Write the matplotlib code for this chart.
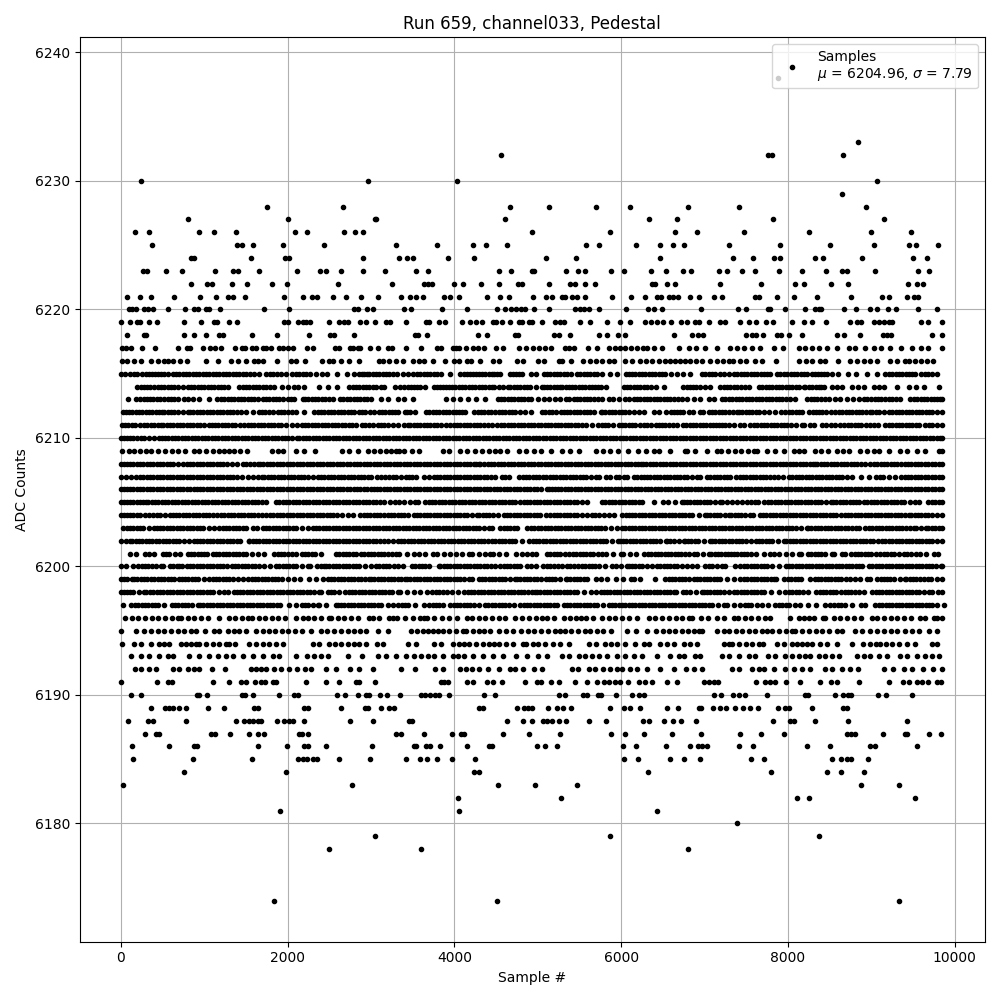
import matplotlib
matplotlib.use("Agg")
import matplotlib.pyplot as plt

x_6238 = [7874]
x_6233 = [8840]
x_6232 = [4556, 7760, 7808, 8660]
x_6230 = [248, 2960, 4028, 9068]
x_6229 = [8648]
x_6228 = [1748, 2660, 4664, 5132, 5696, 6104, 6800, 7412, 8936]
x_6227 = [800, 2000, 3048, 3064, 4604, 6332, 6668, 7820, 9152]
x_6226 = [168, 344, 932, 1112, 1376, 2084, 2228, 2672, 2804, 2904, 4928, 5864, 6644, 6908, 7472, 8252, 8996, 9476]
x_6225 = [380, 1388, 1452, 1580, 1940, 2432, 3296, 3788, 4220, 4376, 4628, 5576, 5732, 6176, 6464, 6620, 6752, 7292, 7904, 8504, 9028, 9452, 9536, 9800]
x_6224 = [844, 880, 1556, 1964, 2020, 2900, 3332, 3428, 3500, 3920, 4232, 5096, 5456, 6464, 7340, 7580, 7832, 7904, 8324, 8420, 8888, 9500, 9668]
x_6223 = [272, 312, 536, 728, 1124, 1340, 1400, 1652, 2108, 2384, 2460, 2636, 2900, 3164, 3536, 3680, 4536, 4676, 4928, 4960, 5336, 5480, 5564, 5876, 6032, 6356, 6536, 6740, 6836, 7172, 7268, 7448, 7604, 7892, 8168, 8456, 8648, 8708, 9044, 9560, 9692]
x_6222 = [836, 1032, 1092, 1328, 1508, 1808, 1988, 2600, 3248, 3632, 3680, 3728, 3992, 4100, 4316, 4536, 4760, 4808, 5132, 5388, 5440, 5564, 5684, 6368, 6408, 6548, 6648, 7184, 7676, 8084, 8192, 8516, 8720, 9440, 9548, 9620]
x_6221 = [80, 236, 368, 632, 944, 1136, 1280, 1340, 1484, 1952, 2180, 2288, 2348, 2540, 2696, 2876, 3080, 3356, 3464, 3536, 3620, 3872, 3944, 4052, 4388, 4544, 4652, 4940, 5096, 5168, 5288, 5328, 5408, 5468, 5564, 5888, 6116, 6284, 6428, 6476, 6568, 6616, 6676, 6820, 6932, 7112, 7208, 7608, 7656, 7868, 8072, 8348, 8756, 9128, 9208, 9428, 9508, 9560]
x_6220 = [100, 140, 188, 280, 328, 392, 560, 764, 872, 920, 1020, 1060, 1184, 1712, 2012, 2792, 2840, 2948, 3020, 3392, 3480, 3848, 4148, 4508, 4604, 4676, 4736, 4796, 4844, 4952, 5132, 5448, 5500, 5548, 5612, 5732, 6056, 6320, 6392, 6488, 6960, 7400, 7496, 7760, 7788, 7964, 8204, 8320, 8368, 8400, 8672, 8816, 8984, 9068, 9200, 9296, 9560, 9784]
x_6219 = [0, 116, 200, 228, 344, 428, 752, 960, 1120, 1148, 1292, 1388, 1952, 2000, 2120, 2180, 2220, 2268, 2492, 2612, 2680, 2720, 2864, 2936, 3048, 3180, 3228, 3416, 3660, 3700, 3812, 3884, 4088, 4184, 4260, 4328, 4460, 4500, 4572, 4664, 4772, 4812, 4900, 4932, 5048, 5208, 5260, 5308, 5504, 5628, 5828, 5988, 6108, 6288, 6360, 6428, 6500, 6600, 6720, 6784, 6888, 6936, 7052, 7188, 7240, 7424, 7532, 7616, 7736, 7820, 8048, 8188, 8288, 8456, 8744, 8828, 8880, 9028, 9090, 9150, 9208, 9252, 9596, 9680, 9848]
x_6218 = [80, 280, 300, 752, 872, 1016, 1172, 1220, 1568, 1868, 2252, 2504, 2560, 2792, 3524, 3560, 3668, 4280, 4388, 4724, 4764, 5188, 5256, 5384, 5732, 5828, 5960, 6044, 6632, 6848, 6920, 6980, 7496, 7568, 7616, 7700, 7868, 7916, 8012, 8168, 8588, 8672, 8864, 9140, 9188, 9240, 9728, 9848]
x_6217 = [20, 60, 128, 260, 404, 680, 792, 832, 980, 1064, 1124, 1200, 1364, 1448, 1488, 1568, 1620, 1700, 1740, 1800, 1900, 1940, 2004, 2060, 2228, 2300, 2564, 2612, 2744, 2780, 2840, 2872, 2984, 3080, 3200, 3252, 3416, 3596, 3788, 3840, 3980, 4020, 4060, 4140, 4220, 4280, 4352, 4500, 4588, 4780, 4860, 4940, 5010, 5088, 5156, 5328, 5368, 5428, 5600, 5708, 5848, 5920, 5990, 6048, 6120, 6190, 6260, 6310, 6388, 6488, 6688, 6808, 6900, 7008, 7148, 7308, 7390, 7470, 7568, 7668, 7828, 7936, 8128, 8208, 8288, 8368, 8468, 8588, 8728, 8808, 8928, 9028, 9120, 9228, 9360, 9488, 9600, 9680, 9850]
x_6216 = [20, 80, 160, 240, 360, 440, 520, 560, 628, 710, 788, 1020, 1160, 1320, 1400, 1500, 1600, 1640, 1700, 1868, 2040, 2100, 2204, 2408, 2500, 2540, 2640, 2740, 2852, 3092, 3140, 3212, 3300, 3380, 3500, 3570, 3640, 3740, 3884, 4000, 4060, 4148, 4204, 4312, 4460, 4532, 4748, 4820, 5000, 5068, 5248, 5288, 5396, 5540, 5628, 5700, 5768, 5848, 5908, 6048, 6128, 6228, 6300, 6368, 6448, 6520, 6588, 6648, 6710, 6768, 6828, 6900, 6968, 7068, 7148, 7220, 7288, 7336, 7420, 7500, 7600, 7688, 7856, 8128, 8210, 8288, 8388, 8448, 8600, 8748, 8830, 8910, 8988, 9068, 9228, 9308, 9408, 9448, 9528, 9600, 9668, 9740]
x_6215 = [0, 55, 110, 160, 200, 260, 335, 410, 485, 560, 620, 700, 780, 860, 940, 1020, 1100, 1180, 1260, 1340, 1420, 1500, 1600, 1660, 1740, 1830, 1920, 1980, 2052, 2140, 2220, 2268, 2340, 2412, 2472, 2592, 2708, 2800, 2860, 2920, 2980, 3060, 3140, 3220, 3312, 3380, 3440, 3500, 3552, 3630, 3710, 3790, 3844, 3952, 4072, 4150, 4220, 4292, 4332, 4410, 4480, 4552, 4672, 4740, 4810, 4924, 4984, 5072, 5150, 5230, 5312, 5350, 5400, 5472, 5550, 5630, 5712, 5772, 5860, 5952, 6052, 6130, 6210, 6290, 6370, 6450, 6530, 6592, 6672, 6740, 6828, 6968, 7050, 7130, 7228, 7288, 7348, 7430, 7510, 7590, 7670, 7748, 7788, 7868, 7908, 7990, 8070, 8150, 8230, 8288, 8328, 8400, 8470, 8528, 8600, 8720, 8820, 8948, 9068, 9168, 9250, 9330, 9410, 9488, 9528, 9600, 9680, 9788,
          300, 372, 448, 520, 660, 740, 820, 900, 980, 1060, 1140, 1220, 1300, 1380, 1460, 1550, 1785, 1875, 2096, 2180, 2890, 2950, 3020, 3100, 3180, 3266, 3590, 3670, 3750, 4111, 4185, 4256, 4371, 4445, 4516, 4706, 4775, 5111, 5190, 5271, 5511, 5590, 5670, 6091, 6170, 6250, 6330, 6410, 6490, 7009, 7090, 7180, 7389, 7470, 7550, 7630, 7710, 7950, 8030, 8110, 8190, 8360, 8435, 9209, 9290, 9370, 9450, 9640, 9730]
x_6214 = [200, 280, 350, 400, 440, 520, 600, 680, 740, 800, 880, 960, 1040, 1120, 1200, 1280, 1420, 1500, 1580, 1660, 1740, 1840, 1932, 2000, 2072, 2130, 2200, 2372, 2480, 2592, 2740, 2820, 2900, 2980, 3060, 3120, 3160, 3292, 3350, 3440, 3520, 3590, 3652, 3752, 3830, 3900, 3972, 4012, 4090, 4170, 4250, 4330, 4410, 4480, 4532, 4580, 4640, 4672, 4750, 4830, 4910, 4980, 5052, 5072, 5150, 5230, 5292, 5332, 5410, 5492, 5532, 5610, 5690, 5760, 5812, 6032, 6110, 6190, 6270, 6352, 6412, 6512, 6736, 6788, 6860, 6940, 7000, 7068, 7188, 7270, 7350, 7430, 7528, 7648, 7730, 7810, 7890, 7970, 8050, 8130, 8188, 8208, 8290, 8370, 8428, 8528, 8590, 8648, 8768, 8840, 8908, 9028, 9090, 9148, 9308, 9456, 9536, 9632, 9812,
          240, 315, 480, 560, 640, 840, 920, 1000, 1080, 1160, 1240, 1460, 1540, 1620, 1700, 1790, 2780, 2860, 2940, 3020, 3395, 3480, 3555, 3790, 3865, 3936, 4050, 4130, 4210, 4290, 4370, 4445, 4710, 4790, 4870, 5110, 5190, 5261, 5371, 5451, 5571, 5650, 5725, 6071, 6150, 6230, 6311, 6824, 6900, 7229, 7310, 7390, 7479, 7689, 7770, 7850, 7930, 8010, 8090, 8250, 8330, 8399]
x_6213 = [88, 180, 230, 280, 312, 390, 470, 560, 600, 680, 752, 810, 860, 940, 1052, 1148, 1200, 1280, 1360, 1440, 1480, 1560, 1640, 1700, 1740, 1820, 1900, 2000, 2080, 2180, 2212, 2290, 2370, 2450, 2540, 2628, 2710, 2790, 2870, 2950, 3000, 3120, 3200, 3320, 3392, 3500, 3900, 3980, 4072, 4164, 4260, 4372, 4524, 4600, 4680, 4760, 4840, 4884, 4924, 5000, 5070, 5132, 5204, 5270, 5332, 5370, 5432, 5510, 5590, 5670, 5772, 5852, 5900, 5972, 6040, 6092, 6152, 6230, 6310, 6390, 6470, 6550, 6630, 6732, 6788, 6868, 6950, 7048, 7116, 7208, 7290, 7370, 7450, 7530, 7610, 7690, 7770, 7850, 7930, 8028, 8088, 8228, 8310, 8390, 8448, 8488, 8560, 8628, 8708, 8780, 8856, 8908, 9000, 9080, 9160, 9250, 9348, 9468, 9550, 9630, 9710, 9790, 9850,
          350, 430, 515, 640, 1240, 1320, 1400, 1520, 1600, 1780, 1860, 1950, 2040, 2250, 2330, 2410, 2495, 2670, 2750, 2830, 2910, 4562, 4640, 4720, 4800, 5471, 5550, 5630, 5720, 6191, 6270, 6350, 6430, 6510, 6590, 6680, 7249, 7330, 7410, 7490, 7570, 7650, 7730, 7810, 7890, 7980, 8270, 8350, 8950, 9040, 9120, 9205, 9300, 9510, 9590, 9670, 9750, 9820]
x_6212 = [28, 100, 180, 260, 340, 420, 492, 520, 600, 680, 800, 828, 910, 990, 1070, 1150, 1230, 1310, 1390, 1500, 1580, 1652, 1730, 1820, 1880, 1920, 2000, 2100, 2200, 2320, 2360, 2400, 2480, 2560, 2640, 2720, 2800, 2852, 2928, 3040, 3092, 3170, 3250, 3320, 3404, 3470, 3532, 3660, 3740, 3820, 3900, 3980, 4060, 4132, 4240, 4284, 4360, 4440, 4532, 4572, 4650, 4730, 4852, 4924, 5052, 5130, 5212, 5272, 5350, 5430, 5510, 5590, 5670, 5752, 5772, 5850, 5930, 6010, 6090, 6152, 6212, 6272, 6392, 6452, 6532, 6592, 6670, 6740, 6808, 6856, 6948, 6976, 7050, 7130, 7210, 7290, 7388, 7408, 7490, 7570, 7650, 7768, 7848, 7910, 7968, 8008, 8090, 8170, 8248, 8296, 8370, 8450, 8568, 8608, 8690, 8770, 8850, 8930, 8988, 9008, 9090, 9208, 9248, 9330, 9410, 9490, 9570, 9650, 9730, 9850,
          65, 140, 220, 300, 380, 456, 560, 640, 740, 870, 950, 1030, 1110, 1190, 1270, 1350, 1445, 1690, 1775, 1960, 2050, 2440, 2520, 2600, 2680, 2760, 2890, 2985, 3130, 3210, 3285, 3437, 3700, 3780, 3860, 3940, 4020, 4096, 4322, 4400, 4486, 4611, 4690, 4791, 5091, 5171, 5311, 5390, 5470, 5550, 5630, 5811, 5890, 5970, 6050, 6630, 6705, 7090, 7170, 7250, 7340, 7449, 7530, 7610, 7710, 8050, 8130, 8330, 8410, 8509, 8650, 8730, 8810, 8890, 9050, 9150, 9289, 9370, 9450, 9530, 9610, 9690, 9790]
x_6211 = [12, 90, 170, 280, 320, 400, 480, 508, 590, 670, 750, 830, 910, 1000, 1052, 1130, 1210, 1290, 1370, 1480, 1520, 1600, 1680, 1760, 1840, 1920, 2052, 2116, 2172, 2250, 2330, 2410, 2490, 2570, 2650, 2730, 2820, 2888, 2970, 3080, 3120, 3200, 3320, 3400, 3444, 3468, 3550, 3630, 3710, 3790, 3900, 3952, 4030, 4110, 4190, 4270, 4350, 4452, 4512, 4564, 4640, 4720, 4800, 4880, 4960, 5040, 5120, 5200, 5280, 5360, 5440, 5532, 5580, 5650, 5724, 5764, 5840, 5972, 6004, 6090, 6170, 6270, 6352, 6412, 6490, 6570, 6672, 6740, 6820, 6900, 6980, 7060, 7140, 7210, 7288, 7348, 7428, 7468, 7548, 7588, 7670, 7750, 7830, 7910, 7990, 8090, 8168, 8188, 8260, 8316, 8408, 8460, 8560, 8676, 8716, 8800, 8880, 8980, 9076, 9168, 9250, 9330, 9410, 9490, 9568, 9648, 9730, 9840,
          50, 130, 225, 360, 440, 550, 630, 710, 790, 870, 955, 1090, 1170, 1250, 1330, 1425, 1560, 1640, 1720, 1800, 1880, 1985, 2210, 2290, 2370, 2450, 2530, 2610, 2690, 2775, 2930, 3025, 3160, 3260, 3510, 3590, 3670, 3750, 3845, 3990, 4070, 4150, 4230, 4310, 4400, 4600, 4680, 4760, 4840, 4920, 5000, 5080, 5160, 5240, 5320, 5400, 5486, 5802, 5905, 6047, 6130, 6220, 6310, 6450, 6530, 6620, 6780, 6860, 6940, 7020, 7100, 7175, 7250, 7630, 7710, 7790, 7870, 7950, 8040, 8510, 8618, 8758, 8840, 8930, 9030, 9210, 9290, 9370, 9450, 9530, 9690, 9790]
x_6210 = [0, 70, 150, 240, 280, 340, 400, 452, 530, 610, 690, 770, 850, 930, 1010, 1090, 1170, 1250, 1330, 1410, 1490, 1572, 1650, 1730, 1810, 1890, 1970, 2050, 2112, 2140, 2220, 2300, 2380, 2460, 2540, 2620, 2700, 2780, 2860, 2940, 3020, 3100, 3180, 3260, 3340, 3420, 3500, 3580, 3660, 3740, 3820, 3900, 3980, 4060, 4140, 4220, 4300, 4380, 4460, 4540, 4620, 4700, 4780, 4860, 4940, 5020, 5100, 5180, 5260, 5340, 5420, 5500, 5580, 5660, 5740, 5820, 5900, 5980, 6060, 6140, 6220, 6300, 6380, 6460, 6540, 6620, 6700, 6780, 6860, 6940, 7020, 7100, 7180, 7260, 7340, 7420, 7500, 7580, 7660, 7740, 7820, 7900, 7980, 8060, 8140, 8220, 8300, 8380, 8460, 8540, 8620, 8700, 8780, 8860, 8940, 9020, 9100, 9180, 9260, 9340, 9420, 9500, 9580, 9660, 9740, 9820, 9850,
          35, 110, 195, 490, 570, 650, 730, 810, 890, 970, 1050, 1130, 1210, 1290, 1370, 1450, 1530, 1610, 1690, 1770, 1850, 1930, 2010, 2180, 2260, 2340, 2420, 2500, 2580, 2660, 2740, 2820, 2900, 2980, 3060, 3140, 3220, 3300, 3380, 3460, 3540, 3620, 3700, 3780, 3860, 3940, 4020, 4100, 4180, 4260, 4340, 4420, 4500, 4580, 4660, 4740, 4820, 4900, 4980, 5060, 5140, 5220, 5300, 5380, 5460, 5540, 5620, 5700, 5780, 5860, 5940, 6020, 6100, 6180, 6260, 6340, 6420, 6500, 6580, 6660, 6740, 6820, 6900, 6980, 7060, 7140, 7220, 7300, 7380, 7460, 7540, 7620, 7700, 7780, 7860, 7940, 8020, 8100, 8180, 8260, 8340, 8420, 8500, 8580, 8660, 8740, 8820, 8900, 8980, 9060, 9140, 9220, 9300, 9380, 9460, 9540, 9620, 9700, 9780]
x_6209 = [20, 100, 160, 230, 300, 360, 440, 532, 610, 690, 770, 880, 940, 1020, 1100, 1172, 1240, 1300, 1360, 1430, 1508, 1812, 1880, 1940, 2100, 2200, 2324, 2652, 2740, 2840, 2960, 3040, 3108, 3180, 3240, 3300, 3340, 3400, 3492, 3580, 3860, 3940, 4064, 4152, 4252, 4330, 4410, 4492, 4544, 4632, 4780, 4860, 4950, 5032, 5160, 5284, 5380, 5492, 5692, 5780, 5860, 5956, 6080, 6204, 6300, 6392, 6452, 6584, 6784, 6768, 6888, 7028, 7148, 7200, 7280, 7360, 7440, 7520, 7588, 7628, 7748, 7848, 7948, 8068, 8130, 8188, 8328, 8400, 8480, 8588, 8660, 8728, 8868, 8950, 9030, 9088, 9208, 9348, 9428, 9548, 9648, 9808, 9850]
x_6208 = [0, 70, 150, 230, 310, 390, 470, 550, 630, 740, 788, 870, 950, 1030, 1110, 1190, 1270, 1388, 1460, 1550, 1640, 1668, 1750, 1830, 1910, 1990, 2070, 2150, 2230, 2310, 2390, 2470, 2550, 2630, 2710, 2790, 2870, 2950, 3030, 3110, 3190, 3270, 3350, 3430, 3510, 3590, 3670, 3750, 3830, 3910, 3990, 4070, 4150, 4230, 4292, 4312, 4400, 4480, 4560, 4640, 4720, 4800, 4880, 4960, 5040, 5120, 5200, 5280, 5360, 5440, 5520, 5600, 5680, 5760, 5840, 5920, 6000, 6080, 6160, 6232, 6260, 6340, 6420, 6500, 6580, 6660, 6740, 6820, 6900, 6980, 7060, 7140, 7220, 7300, 7380, 7460, 7540, 7620, 7700, 7780, 7860, 7940, 8020, 8100, 8180, 8260, 8328, 8348, 8430, 8510, 8590, 8670, 8750, 8830, 8928, 8988, 9070, 9150, 9230, 9310, 9408, 9440, 9520, 9600, 9680, 9760, 9850,
          35, 110, 190, 270, 350, 430, 510, 590, 680, 830, 910, 990, 1070, 1150, 1230, 1330, 1500, 1595, 1710, 1790, 1870, 1950, 2030, 2110, 2190, 2270, 2350, 2430, 2510, 2590, 2670, 2750, 2830, 2910, 2990, 3070, 3150, 3230, 3310, 3390, 3470, 3550, 3630, 3710, 3790, 3870, 3950, 4030, 4110, 4190, 4260, 4356, 4440, 4520, 4600, 4680, 4760, 4840, 4920, 5000, 5080, 5160, 5240, 5320, 5400, 5480, 5560, 5640, 5720, 5800, 5880, 5960, 6040, 6120, 6196, 6300, 6380, 6460, 6540, 6620, 6700, 6780, 6860, 6940, 7020, 7100, 7180, 7260, 7340, 7420, 7500, 7580, 7660, 7740, 7820, 7900, 7980, 8060, 8140, 8220, 8295, 8390, 8470, 8550, 8630, 8710, 8790, 8880, 9030, 9110, 9190, 9270, 9360, 9480, 9560, 9640, 9720, 9805]
x_6207 = [0, 60, 120, 188, 270, 350, 430, 510, 590, 670, 750, 830, 910, 990, 1070, 1150, 1230, 1310, 1390, 1520, 1580, 1640, 1692, 1720, 1800, 1880, 1960, 2040, 2120, 2200, 2300, 2360, 2440, 2520, 2600, 2680, 2760, 2840, 2920, 3000, 3068, 3120, 3172, 3220, 3300, 3420, 3452, 3540, 3632, 3692, 3752, 3830, 3910, 3990, 4070, 4150, 4230, 4310, 4390, 4492, 4572, 4650, 4780, 4860, 4940, 5020, 5100, 5180, 5260, 5340, 5420, 5500, 5580, 5692, 5732, 5812, 5868, 5932, 5968, 6032, 6072, 6152, 6232, 6310, 6390, 6470, 6550, 6630, 6710, 6790, 6908, 6948, 7028, 7068, 7150, 7230, 7310, 7428, 7456, 7540, 7620, 7700, 7780, 7880, 7940, 8008, 8090, 8170, 8250, 8330, 8410, 8490, 8570, 8650, 8768, 8880, 8968, 9056, 9140, 9280, 9356, 9440, 9520, 9600, 9680, 9760, 9850,
          230, 310, 390, 470, 550, 630, 710, 790, 870, 950, 1030, 1110, 1190, 1270, 1350, 1455, 1760, 1840, 1920, 2000, 2080, 2160, 2250, 2400, 2480, 2560, 2640, 2720, 2800, 2880, 2960, 3260, 3360, 3496, 3790, 3870, 3950, 4030, 4110, 4190, 4270, 4350, 4440, 4610, 4820, 4900, 4980, 5060, 5140, 5220, 5300, 5380, 5460, 5540, 5636, 6190, 6270, 6350, 6430, 6510, 6590, 6670, 6750, 6850, 7110, 7190, 7270, 7370, 7500, 7580, 7660, 7740, 7830, 8050, 8130, 8210, 8290, 8370, 8450, 8530, 8610, 8710, 9100, 9210, 9400, 9480, 9560, 9640, 9720, 9805]
x_6206 = [0, 70, 150, 230, 310, 390, 470, 550, 630, 710, 790, 880, 950, 1030, 1110, 1190, 1270, 1350, 1430, 1510, 1590, 1670, 1750, 1830, 1910, 1990, 2070, 2150, 2230, 2310, 2390, 2470, 2550, 2630, 2710, 2790, 2870, 2950, 3040, 3068, 3150, 3230, 3310, 3390, 3470, 3550, 3630, 3710, 3790, 3870, 3950, 4030, 4110, 4150, 4230, 4310, 4390, 4470, 4550, 4630, 4710, 4790, 4870, 4950, 5040, 5112, 5130, 5200, 5280, 5360, 5440, 5520, 5600, 5680, 5760, 5840, 5920, 6000, 6080, 6160, 6240, 6320, 6400, 6480, 6560, 6640, 6720, 6800, 6880, 6960, 7040, 7120, 7200, 7280, 7360, 7440, 7520, 7600, 7680, 7760, 7840, 7920, 8000, 8080, 8160, 8240, 8320, 8400, 8480, 8560, 8640, 8720, 8800, 8880, 8960, 9040, 9120, 9200, 9280, 9360, 9440, 9520, 9600, 9680, 9760, 9850,
          35, 110, 190, 270, 350, 430, 510, 590, 670, 750, 835, 915, 990, 1070, 1150, 1230, 1310, 1390, 1470, 1550, 1630, 1710, 1790, 1870, 1950, 2030, 2110, 2190, 2270, 2350, 2430, 2510, 2590, 2670, 2750, 2830, 2910, 2995, 3110, 3190, 3270, 3350, 3430, 3510, 3590, 3670, 3750, 3830, 3910, 3990, 4070, 4190, 4270, 4350, 4430, 4510, 4590, 4670, 4750, 4830, 4910, 4995, 5165, 5240, 5320, 5400, 5480, 5560, 5640, 5720, 5800, 5880, 5960, 6040, 6120, 6200, 6280, 6360, 6440, 6520, 6600, 6680, 6760, 6840, 6920, 7000, 7080, 7160, 7240, 7320, 7400, 7480, 7560, 7640, 7720, 7800, 7880, 7960, 8040, 8120, 8200, 8280, 8360, 8440, 8520, 8600, 8680, 8760, 8840, 8920, 9000, 9080, 9160, 9240, 9320, 9400, 9480, 9560, 9640, 9720, 9805]
x_6205 = [0, 70, 150, 230, 300, 332, 410, 490, 570, 650, 730, 810, 890, 970, 1050, 1130, 1210, 1290, 1370, 1450, 1530, 1610, 1690, 1740, 1860, 1940, 2020, 2100, 2180, 2260, 2340, 2420, 2500, 2580, 2660, 2740, 2820, 2900, 2980, 3060, 3160, 3230, 3292, 3332, 3400, 3470, 3532, 3564, 3650, 3730, 3810, 3890, 3972, 4012, 4090, 4170, 4250, 4330, 4410, 4490, 4570, 4650, 4730, 4792, 4832, 4910, 4990, 5070, 5150, 5230, 5310, 5390, 5470, 5584, 5772, 5850, 5930, 6010, 6090, 6170, 6252, 6392, 6500, 6564, 6640, 6728, 6748, 6830, 6910, 6990, 7070, 7188, 7208, 7328, 7388, 7508, 7560, 7640, 7708, 7760, 7840, 7920, 8000, 8080, 8160, 8240, 8320, 8400, 8516, 8540, 8620, 8700, 8780, 8856, 8908, 8990, 9070, 9150, 9230, 9310, 9390, 9528, 9576, 9680, 9760, 9850,
          35, 110, 190, 265, 370, 450, 530, 610, 690, 770, 850, 930, 1010, 1090, 1170, 1250, 1330, 1410, 1490, 1570, 1650, 1900, 1980, 2060, 2140, 2220, 2300, 2380, 2460, 2540, 2620, 2700, 2780, 2860, 2940, 3020, 3110, 3690, 3770, 3850, 3930, 4050, 4130, 4210, 4290, 4370, 4450, 4530, 4610, 4690, 4870, 4950, 5030, 5110, 5190, 5270, 5350, 5430, 5525, 5810, 5890, 5970, 6050, 6130, 6210, 6790, 6870, 6950, 7030, 7130, 7268, 7448, 7600, 7800, 7880, 7960, 8040, 8120, 8200, 8280, 8360, 8460, 8580, 8660, 8740, 8820, 8950, 9030, 9110, 9190, 9270, 9350, 9460, 9720, 9805]
x_6204 = [0, 70, 150, 230, 340, 388, 470, 588, 620, 700, 780, 860, 940, 1020, 1100, 1200, 1240, 1320, 1400, 1480, 1560, 1640, 1740, 1788, 1870, 1950, 2030, 2110, 2190, 2270, 2350, 2430, 2510, 2590, 2720, 2780, 2872, 2950, 3030, 3110, 3200, 3240, 3320, 3400, 3444, 3512, 3590, 3670, 3750, 3830, 3910, 3990, 4070, 4150, 4272, 4300, 4380, 4460, 4592, 4632, 4710, 4790, 4870, 4950, 5030, 5100, 5140, 5192, 5232, 5310, 5390, 5470, 5592, 5644, 5730, 5852, 5912, 6012, 6052, 6130, 6210, 6290, 6370, 6450, 6530, 6610, 6690, 6770, 6850, 7008, 7028, 7110, 7190, 7288, 7320, 7400, 7480, 7548, 7580, 7668, 7696, 7780, 7860, 7940, 8020, 8100, 8180, 8260, 8340, 8420, 8500, 8580, 8688, 8720, 8800, 8880, 8960, 9040, 9120, 9200, 9280, 9360, 9448, 9476, 9560, 9640, 9720, 9850,
          35, 110, 190, 285, 430, 530, 660, 740, 820, 900, 980, 1060, 1150, 1280, 1360, 1440, 1520, 1600, 1690, 1830, 1910, 1990, 2070, 2150, 2230, 2310, 2390, 2470, 2550, 2650, 2910, 2990, 3070, 3155, 3280, 3360, 3550, 3630, 3710, 3790, 3870, 3950, 4030, 4110, 4210, 4340, 4420, 4525, 4670, 4750, 4830, 4910, 4990, 5270, 5350, 5430, 5530, 5690, 5790, 6090, 6170, 6250, 6330, 6410, 6490, 6570, 6650, 6730, 6810, 6930, 7070, 7150, 7240, 7360, 7440, 7740, 7820, 7900, 7980, 8060, 8140, 8220, 8300, 8380, 8460, 8540, 8630, 8760, 8840, 8920, 9000, 9080, 9160, 9240, 9320, 9400, 9520, 9600, 9680, 9785]
x_6203 = [28, 110, 190, 270, 400, 428, 510, 590, 670, 750, 830, 910, 990, 1120, 1180, 1260, 1340, 1420, 1500, 1580, 1628, 1700, 1780, 1860, 1940, 2020, 2100, 2240, 2300, 2380, 2460, 2540, 2620, 2700, 2780, 2860, 2940, 3020, 3100, 3180, 3260, 3340, 3420, 3500, 3580, 3660, 3740, 3820, 3900, 3980, 4060, 4140, 4220, 4300, 4412, 4452, 4552, 4592, 4670, 4750, 4872, 4924, 5000, 5080, 5160, 5240, 5320, 5400, 5480, 5560, 5640, 5720, 5800, 5952, 6012, 6090, 6170, 6250, 6330, 6410, 6490, 6570, 6650, 6730, 6810, 6890, 6970, 7050, 7130, 7210, 7290, 7370, 7450, 7530, 7610, 7690, 7770, 7850, 7930, 8010, 8090, 8228, 8240, 8320, 8400, 8480, 8560, 8640, 8720, 8816, 8848, 8928, 9010, 9090, 9170, 9250, 9330, 9410, 9508, 9536, 9656, 9680, 9760, 9850,
          70, 150, 230, 335, 470, 550, 630, 710, 790, 870, 950, 1055, 1220, 1300, 1380, 1460, 1740, 1820, 1900, 1980, 2060, 2170, 2340, 2420, 2500, 2580, 2660, 2740, 2820, 2900, 2980, 3060, 3140, 3220, 3300, 3380, 3460, 3540, 3620, 3700, 3780, 3860, 3940, 4020, 4100, 4180, 4260, 4356, 4630, 4710, 4960, 5040, 5120, 5200, 5280, 5360, 5440, 5520, 5600, 5680, 5760, 5876, 6050, 6130, 6210, 6290, 6370, 6450, 6530, 6610, 6690, 6770, 6850, 6930, 7010, 7090, 7170, 7250, 7330, 7410, 7490, 7570, 7650, 7730, 7810, 7890, 7970, 8050, 8160, 8280, 8360, 8440, 8520, 8600, 8680, 8768, 8968, 9050, 9130, 9210, 9290, 9370, 9460, 9596, 9720, 9805]
x_6202 = [0, 60, 108, 140, 220, 300, 380, 460, 540, 620, 700, 820, 872, 950, 1030, 1110, 1190, 1270, 1350, 1430, 1532, 1540, 1620, 1700, 1780, 1860, 1940, 2020, 2100, 2180, 2260, 2340, 2420, 2500, 2580, 2660, 2740, 2820, 2900, 2980, 3060, 3160, 3200, 3320, 3400, 3480, 3560, 3640, 3720, 3800, 3880, 3960, 4040, 4120, 4200, 4280, 4360, 4452, 4492, 4570, 4650, 4730, 4892, 4940, 5020, 5100, 5180, 5260, 5340, 5420, 5500, 5580, 5660, 5740, 5820, 5964, 5980, 6060, 6140, 6220, 6300, 6380, 6460, 6532, 6552, 6630, 6748, 6760, 6840, 6920, 7068, 7088, 7170, 7250, 7330, 7410, 7490, 7616, 7648, 7730, 7810, 7948, 7976, 8060, 8140, 8220, 8300, 8380, 8460, 8540, 8620, 8700, 8780, 8860, 8940, 9020, 9128, 9168, 9250, 9330, 9410, 9490, 9570, 9650, 9730, 9850,
          180, 260, 340, 420, 500, 580, 660, 760, 910, 990, 1070, 1150, 1230, 1310, 1390, 1580, 1660, 1740, 1820, 1900, 1980, 2060, 2140, 2220, 2300, 2380, 2460, 2540, 2620, 2700, 2780, 2860, 2940, 3020, 3110, 3260, 3360, 3440, 3520, 3600, 3680, 3760, 3840, 3920, 4000, 4080, 4160, 4240, 4320, 4406, 4530, 4610, 4690, 4810, 4980, 5060, 5140, 5220, 5300, 5380, 5460, 5540, 5620, 5700, 5780, 5892, 6020, 6100, 6180, 6260, 6340, 6420, 6590, 6690, 6800, 6880, 6994, 7130, 7210, 7290, 7370, 7450, 7553, 7690, 7770, 7879, 8020, 8100, 8180, 8260, 8340, 8420, 8500, 8580, 8660, 8740, 8820, 8900, 8980, 9074, 9210, 9290, 9370, 9450, 9530, 9610, 9690, 9790]
x_6201 = [108, 180, 288, 340, 400, 500, 580, 708, 800, 880, 960, 1032, 1100, 1180, 1260, 1340, 1420, 1500, 1640, 1720, 1840, 1920, 2000, 2100, 2168, 2250, 2330, 2400, 2580, 2660, 2740, 2820, 2880, 2960, 3040, 3120, 3200, 3300, 3340, 3432, 3512, 3580, 3644, 3740, 3792, 3870, 3952, 4024, 4092, 4172, 4212, 4290, 4370, 4432, 4460, 4540, 4620, 4740, 4812, 4870, 4932, 4984, 5112, 5190, 5270, 5372, 5424, 5500, 5580, 5660, 5772, 5820, 5900, 5992, 6024, 6100, 6180, 6272, 6324, 6400, 6480, 6560, 6640, 6720, 6812, 6868, 6908, 6980, 7056, 7080, 7160, 7240, 7320, 7352, 7430, 7510, 7616, 7716, 7788, 7828, 7888, 7976, 8050, 8136, 8160, 8240, 8280, 8360, 8440, 8528, 8556, 8648, 8688, 8750, 8808, 8840, 8920, 9000, 9056, 9104, 9190, 9270, 9328, 9388, 9470, 9588, 9656, 9748, 9800,
          540, 645, 840, 920, 1000, 1140, 1220, 1300, 1380, 1460, 1570, 1880, 1960, 2050, 2210, 2290, 2620, 2700, 2780, 2920, 3000, 3080, 3160, 3250, 5150, 5230, 5320, 5460, 5540, 5620, 5716, 6360, 6440, 6520, 6600, 6680, 6766, 7120, 7200, 7280, 7390, 7470, 7560, 8320, 8400, 8880, 8960, 9146, 9230, 9430, 9530]
x_6200 = [0, 60, 152, 212, 290, 370, 480, 508, 590, 670, 732, 788, 870, 950, 1030, 1110, 1190, 1270, 1332, 1372, 1450, 1530, 1610, 1712, 1788, 1860, 1940, 2020, 2100, 2240, 2268, 2350, 2440, 2460, 2540, 2620, 2700, 2780, 2860, 3000, 3060, 3140, 3220, 3320, 3380, 3492, 3532, 3610, 3690, 3812, 3832, 3910, 3990, 4070, 4150, 4230, 4310, 4390, 4484, 4552, 4630, 4710, 4792, 4872, 4924, 4980, 5060, 5112, 5190, 5292, 5352, 5430, 5524, 5564, 5650, 5730, 5892, 5932, 6072, 6092, 6170, 6250, 6372, 6432, 6510, 6590, 6670, 6728, 6788, 6850, 6908, 7008, 7090, 7208, 7240, 7368, 7428, 7510, 7590, 7670, 7748, 7808, 7888, 7970, 8050, 8130, 8210, 8290, 8370, 8450, 8530, 8610, 8690, 8770, 8848, 8888, 8968, 9050, 9130, 9210, 9290, 9370, 9450, 9530, 9610, 9690, 9770, 9828, 9850,
          250, 330, 420, 630, 700, 830, 910, 990, 1070, 1150, 1230, 1410, 1490, 1570, 1660, 1900, 1980, 2060, 2170, 2400, 2500, 2580, 2660, 2740, 2820, 2930, 3100, 3180, 3270, 3570, 3650, 3870, 3950, 4030, 4110, 4190, 4270, 4350, 4437, 4590, 4670, 4750, 5150, 5240, 5390, 5480, 5610, 5690, 5810, 6000, 6130, 6210, 6310, 6470, 6550, 6630, 7050, 7150, 7470, 7550, 7630, 7710, 8010, 8090, 8170, 8250, 8330, 8410, 8490, 8570, 8650, 8730, 8810, 9010, 9090, 9170, 9250, 9330, 9410, 9490, 9570, 9650, 9730]
x_6199 = [0, 70, 140, 160, 240, 320, 400, 480, 560, 640, 692, 770, 850, 930, 1060, 1100, 1180, 1260, 1340, 1468, 1528, 1610, 1690, 1770, 1850, 1930, 2080, 2152, 2252, 2340, 2428, 2480, 2560, 2640, 2720, 2800, 2880, 2972, 3000, 3080, 3160, 3240, 3320, 3404, 3432, 3510, 3590, 3670, 3750, 3830, 3910, 3990, 4070, 4172, 4212, 4292, 4370, 4450, 4530, 4610, 4724, 4752, 4830, 4910, 4990, 5092, 5132, 5210, 5332, 5352, 5430, 5510, 5590, 5700, 5752, 5832, 5932, 6020, 6112, 6152, 6220, 6404, 6524, 6572, 6650, 6730, 6812, 6870, 6950, 7030, 7110, 7188, 7268, 7348, 7428, 7510, 7590, 7670, 7750, 7828, 7856, 7948, 8000, 8080, 8160, 8268, 8320, 8400, 8480, 8560, 8640, 8748, 8800, 8868, 8948, 8988, 9070, 9150, 9228, 9268, 9340, 9400, 9416, 9500, 9580, 9680, 9708, 9780, 9840,
          35, 200, 280, 360, 440, 520, 600, 730, 810, 890, 995, 1140, 1220, 1300, 1400, 1570, 1650, 1730, 1810, 1890, 2005, 2520, 2600, 2680, 2760, 2840, 2925, 3040, 3120, 3200, 3280, 3360, 3470, 3550, 3630, 3710, 3790, 3870, 3950, 4030, 4120, 4330, 4410, 4490, 4570, 4665, 4790, 4870, 4950, 5040, 5170, 5270, 5390, 5470, 5550, 6610, 6690, 6770, 6910, 6990, 7070, 7150, 7470, 7550, 7630, 7710, 7790, 8040, 8120, 8360, 8440, 8520, 8600, 8690, 9110, 9190, 9460, 9540, 9630]
x_6198 = [0, 70, 150, 220, 280, 308, 390, 470, 550, 630, 710, 790, 870, 950, 1030, 1110, 1240, 1280, 1360, 1388, 1470, 1550, 1630, 1710, 1790, 1870, 1950, 2030, 2110, 2190, 2270, 2372, 2400, 2480, 2560, 2612, 2690, 2770, 2850, 2930, 3010, 3090, 3170, 3250, 3320, 3352, 3432, 3512, 3592, 3672, 3732, 3820, 3912, 3972, 4040, 4112, 4164, 4240, 4320, 4400, 4480, 4560, 4640, 4720, 4800, 4880, 4972, 4992, 5070, 5150, 5230, 5310, 5390, 5470, 5632, 5700, 5752, 5830, 5910, 5990, 6070, 6150, 6230, 6310, 6390, 6470, 6550, 6628, 6656, 6740, 6820, 6968, 6988, 7070, 7150, 7230, 7356, 7388, 7470, 7550, 7630, 7710, 7888, 7968, 8050, 8130, 8240, 8336, 8420, 8500, 8580, 8688, 8716, 8800, 8908, 9008, 9090, 9170, 9250, 9330, 9410, 9490, 9570, 9688, 9728, 9800, 9850,
          35, 110, 350, 430, 510, 590, 670, 750, 830, 910, 990, 1070, 1175, 1430, 1510, 1590, 1670, 1750, 1830, 1910, 1990, 2070, 2150, 2230, 2320, 2520, 2730, 2810, 2890, 2970, 3050, 3130, 3210, 3776, 3866, 4200, 4280, 4360, 4440, 4520, 4600, 4680, 4760, 4840, 4925, 5030, 5110, 5190, 5270, 5350, 5430, 5550, 5790, 5870, 5950, 6030, 6110, 6190, 6270, 6350, 6430, 6510, 6590, 6780, 6894, 7030, 7110, 7190, 7290, 7430, 7510, 7590, 7670, 7800, 8010, 8090, 8185, 8380, 8460, 8540, 8640, 8760, 8854, 9050, 9130, 9210, 9290, 9370, 9450, 9530, 9630]
x_6197 = [28, 128, 210, 290, 370, 450, 520, 612, 690, 770, 850, 920, 948, 1030, 1110, 1190, 1270, 1350, 1430, 1510, 1590, 1670, 1750, 1830, 1910, 2020, 2100, 2168, 2250, 2360, 2380, 2460, 2580, 2600, 2680, 2760, 2840, 2920, 3000, 3080, 3120, 3200, 3320, 3412, 3444, 3530, 3632, 3700, 3780, 3860, 3952, 3992, 4070, 4150, 4230, 4372, 4404, 4490, 4570, 4650, 4792, 4832, 4910, 4990, 5070, 5150, 5232, 5312, 5390, 5470, 5550, 5630, 5710, 5852, 5892, 5970, 6050, 6130, 6210, 6290, 6370, 6450, 6530, 6610, 6690, 6770, 6850, 6930, 7010, 7090, 7228, 7268, 7428, 7480, 7560, 7688, 7760, 7848, 7930, 8010, 8148, 8240, 8340, 8440, 8508, 8600, 8688, 8768, 8880, 8920, 9048, 9088, 9170, 9250, 9330, 9410, 9490, 9570, 9650, 9730, 9868,
          170, 250, 330, 410, 650, 730, 810, 990, 1070, 1150, 1230, 1310, 1390, 1470, 1550, 1630, 1710, 1790, 1870, 2210, 2300, 2640, 2720, 2800, 2880, 2960, 3040, 3260, 3370, 3740, 3820, 4030, 4110, 4190, 4300, 4450, 4530, 4610, 4720, 4870, 4950, 5030, 5110, 5190, 5350, 5430, 5510, 5590, 5670, 5780, 5930, 6010, 6090, 6170, 6250, 6330, 6410, 6490, 6570, 6650, 6730, 6810, 6890, 6970, 7050, 7160, 7350, 7520, 7625, 7890, 7970, 8080, 8640, 8548, 9130, 9210, 9290, 9370, 9450, 9530, 9610, 9690, 9790]
x_6196 = [52, 130, 210, 290, 370, 450, 530, 610, 680, 720, 800, 880, 960, 1040, 1172, 1292, 1370, 1450, 1520, 1572, 1652, 1730, 1810, 1890, 1970, 2100, 2180, 2240, 2320, 2400, 2492, 2520, 2600, 2680, 2760, 2840, 2980, 3020, 3100, 3212, 3260, 3312, 3412, 3500, 3592, 3632, 3672, 3750, 3850, 3932, 4032, 4152, 4212, 4290, 4370, 4450, 4530, 4604, 4732, 4810, 4890, 4980, 5052, 5112, 5192, 5312, 5380, 5452, 5512, 5572, 5660, 5772, 5850, 5930, 6004, 6092, 6192, 6330, 6410, 6490, 6570, 6656, 6730, 6808, 6848, 6960, 7040, 7148, 7230, 7348, 7400, 7480, 7560, 7640, 7720, 7788, 8028, 8128, 8190, 8248, 8308, 8416, 8448, 8548, 8628, 8710, 8790, 8870, 9008, 9068, 9150, 9230, 9310, 9390, 9470, 9588, 9648, 9748, 9788, 9850]
x_6195 = [0, 180, 280, 360, 440, 520, 600, 680, 760, 840, 900, 1012, 1120, 1180, 1280, 1360, 1420, 1500, 1620, 1700, 1772, 1850, 1930, 2010, 2090, 2170, 2280, 2400, 2472, 2560, 2640, 2720, 2800, 2870, 2940, 3080, 3200, 3480, 3550, 3620, 3680, 3740, 3800, 3860, 3940, 4020, 4100, 4140, 4220, 4300, 4360, 4428, 4540, 4620, 4700, 4800, 4880, 4960, 5040, 5120, 5200, 5268, 5328, 5400, 5480, 5560, 5628, 5708, 5776, 5880, 6068, 6176, 6308, 6416, 6496, 6570, 6640, 6728, 6800, 6870, 6928, 6968, 7148, 7228, 7288, 7370, 7450, 7530, 7608, 7688, 7750, 7808, 7888, 7970, 8048, 8088, 8168, 8250, 8330, 8410, 8488, 8588, 8648, 8808, 8888, 8988, 9070, 9150, 9230, 9308, 9408, 9488, 9576, 9688, 9788]
x_6194 = [20, 160, 240, 360, 452, 520, 580, 720, 780, 840, 900, 940, 1020, 1100, 1180, 1260, 1300, 1364, 1540, 1620, 1700, 1780, 1860, 1940, 2300, 2380, 2500, 2572, 2640, 2720, 2790, 2860, 2940, 3068, 3140, 3440, 3540, 3760, 3840, 3980, 4060, 4120, 4180, 4260, 4340, 4420, 4480, 4540, 4620, 4700, 4820, 4860, 4940, 5008, 5090, 5180, 5268, 5376, 5608, 5700, 5808, 5876, 5948, 6040, 6168, 6268, 6328, 6468, 6550, 6630, 6748, 6828, 6908, 7228, 7288, 7328, 7410, 7490, 7570, 7648, 7700, 7868, 7950, 8048, 8108, 8170, 8228, 8288, 8388, 8470, 8588, 8772, 8900, 8988, 9050, 9108, 9176, 9250, 9328, 9428, 9528, 9728, 9788]
x_6193 = [120, 240, 340, 460, 560, 620, 820, 940, 1060, 1160, 1260, 1340, 1460, 1580, 1700, 1820, 1900, 2100, 2232, 2320, 2400, 2480, 2720, 2888, 3080, 3180, 3300, 3420, 3520, 3600, 3680, 3760, 3860, 3980, 4040, 4120, 4220, 4340, 4460, 4580, 4740, 4868, 5000, 5108, 5288, 5368, 5488, 5568, 5648, 5728, 5828, 5948, 6048, 6148, 6248, 6428, 6588, 6688, 6748, 6888, 6948, 7208, 7288, 7408, 7528, 7608, 7760, 7848, 7968, 8048, 8128, 8208, 8268, 8368, 8448, 8528, 8608, 8828, 8908, 8988, 9088, 9188, 9348, 9428, 9548, 9648, 9728, 9808]
x_6192 = [168, 240, 340, 420, 620, 700, 800, 880, 940, 1088, 1244, 1560, 1620, 1680, 1740, 1832, 1916, 2020, 2108, 2212, 2280, 2460, 2576, 2748, 2852, 3020, 3360, 3524, 3764, 3860, 4068, 4140, 4212, 4292, 4400, 4532, 4668, 4732, 4820, 4960, 5048, 5408, 5480, 5608, 5688, 5776, 5868, 5948, 6008, 6108, 6188, 6308, 6464, 6632, 6776, 6868, 6968, 7328, 7408, 7568, 7648, 7708, 7828, 7964, 8068, 8168, 8268, 8448, 8528, 8648, 8748, 8840, 9152, 9264, 9388, 9488, 9616, 9736, 9850]
x_6191 = [8, 428, 560, 612, 1100, 1292, 1440, 1500, 1604, 1680, 1728, 1820, 1860, 2216, 2456, 2612, 2820, 2852, 3044, 3836, 3880, 3920, 4148, 4220, 4388, 4460, 4568, 4844, 4988, 5040, 5156, 5256, 5444, 5588, 5708, 5788, 5848, 5928, 5988, 6080, 6216, 6288, 6368, 6548, 6668, 6992, 7048, 7108, 7160, 7616, 7720, 7788, 7848, 7980, 8144, 8384, 8516, 8588, 8852, 9212, 9376, 9448, 9548, 9608, 9680, 9788, 9828]
x_6190 = [128, 240, 908, 940, 1028, 1448, 1488, 1580, 1892, 2080, 2120, 2592, 2684, 2840, 2940, 2980, 3104, 3188, 3344, 3596, 3652, 3712, 3772, 3820, 3932, 4352, 4488, 5252, 5328, 5540, 5588, 5720, 5760, 5936, 6128, 6208, 6268, 7112, 7196, 7340, 7408, 7480, 7748, 8200, 8240, 8560, 8660, 8720, 8756, 9080, 9176, 9488]
x_6189 = [368, 524, 572, 628, 692, 780, 1040, 1232, 1592, 1640, 2192, 2240, 2636, 2924, 2960, 3124, 3216, 3280, 4300, 4340, 4748, 4840, 4880, 4932, 5120, 5228, 5300, 5396, 5860, 6032, 6104, 6224, 6548, 6680, 6932, 6960, 7096, 7184, 7256, 7364, 7460, 7544, 7640, 7880, 7968, 8012, 8288, 8660, 8708]
x_6188 = [92, 332, 392, 776, 1376, 1472, 1540, 1580, 1640, 1680, 1868, 1952, 2012, 2068, 2192, 2744, 3020, 3460, 3492, 4628, 4820, 4928, 5060, 5108, 5168, 5256, 5336, 5612, 5816, 6260, 6328, 6512, 6624, 6716, 6896, 7820, 8024, 8072, 8324, 8720, 9428]
x_6187 = [296, 420, 452, 1076, 1124, 1304, 1532, 1640, 1712, 2132, 2172, 2240, 3296, 3356, 3632, 3968, 4076, 4112, 4580, 4892, 5264, 5876, 6044, 6272, 6608, 6956, 7424, 7676, 7952, 8708, 8756, 8804, 9140, 9408, 9428, 9692, 9836]
x_6186 = [140, 572, 880, 912, 1640, 1988, 2200, 2240, 2456, 3008, 3512, 3540, 3660, 3712, 3824, 4148, 4420, 4452, 4988, 5088, 5228, 6020, 6176, 6536, 6824, 6920, 6968, 7028, 7412, 7580, 8228, 8504, 8984, 9044, 9548]
x_6185 = [152, 860, 1568, 2120, 2180, 2228, 2300, 2348, 2612, 2984, 3416, 3584, 3668, 3788, 3968, 4244, 6032, 6200, 6584, 6752, 6944, 7556, 7712, 8528, 8636, 8708, 8756, 8960]
x_6184 = [752, 1976, 4232, 4292, 6320, 7796, 8468, 8636, 8912]
x_6183 = [32, 2768, 4520, 4964, 5468, 8876, 9332]
x_6182 = [4040, 5276, 8108, 8252, 9524]
x_6181 = [1904, 4052, 6428]
x_6180 = [7388]
x_6179 = [3044, 5864, 8372]
x_6178 = [2492, 3596, 6800]
x_6174 = [1832, 4508, 9332]

levels = [6238, 6233, 6232, 6230, 6229, 6228, 6227, 6226, 6225, 6224, 6223, 6222, 6221,
          6220, 6219, 6218, 6217, 6216, 6215, 6214, 6213, 6212, 6211, 6210, 6209, 6208,
          6207, 6206, 6205, 6204, 6203, 6202, 6201, 6200, 6199, 6198, 6197, 6196, 6195,
          6194, 6193, 6192, 6191, 6190, 6189, 6188, 6187, 6186, 6185, 6184, 6183, 6182,
          6181, 6180, 6179, 6178, 6174]
samples = [x_6238, x_6233, x_6232, x_6230, x_6229, x_6228, x_6227, x_6226, x_6225, x_6224, x_6223,
           x_6222, x_6221, x_6220, x_6219, x_6218, x_6217, x_6216, x_6215, x_6214, x_6213, x_6212,
           x_6211, x_6210, x_6209, x_6208, x_6207, x_6206, x_6205, x_6204, x_6203, x_6202, x_6201,
           x_6200, x_6199, x_6198, x_6197, x_6196, x_6195, x_6194, x_6193, x_6192, x_6191, x_6190,
           x_6189, x_6188, x_6187, x_6186, x_6185, x_6184, x_6183, x_6182, x_6181, x_6180, x_6179,
           x_6178, x_6174]

title = "Run 659, channel033, Pedestal"
xlabel = "Sample #"
ylabel = "ADC Counts"
legend_label = "Samples\n$\\mu$ = 6204.96, $\\sigma$ = 7.79"

xs, ys = [], []
for level, row in zip(levels, samples):
    for s in row:
        xs.append(s)
        ys.append(level)

fig, ax = plt.subplots(figsize=(10, 10), dpi=100)
ax.plot(xs, ys, "k.", label=legend_label)
ax.set_title(title)
ax.set_xlabel(xlabel)
ax.set_ylabel(ylabel)
ax.grid(True)
ax.legend(loc="upper right")
fig.tight_layout()
fig.subplots_adjust(top=0.963)
fig.savefig("out.png", dpi=100)
